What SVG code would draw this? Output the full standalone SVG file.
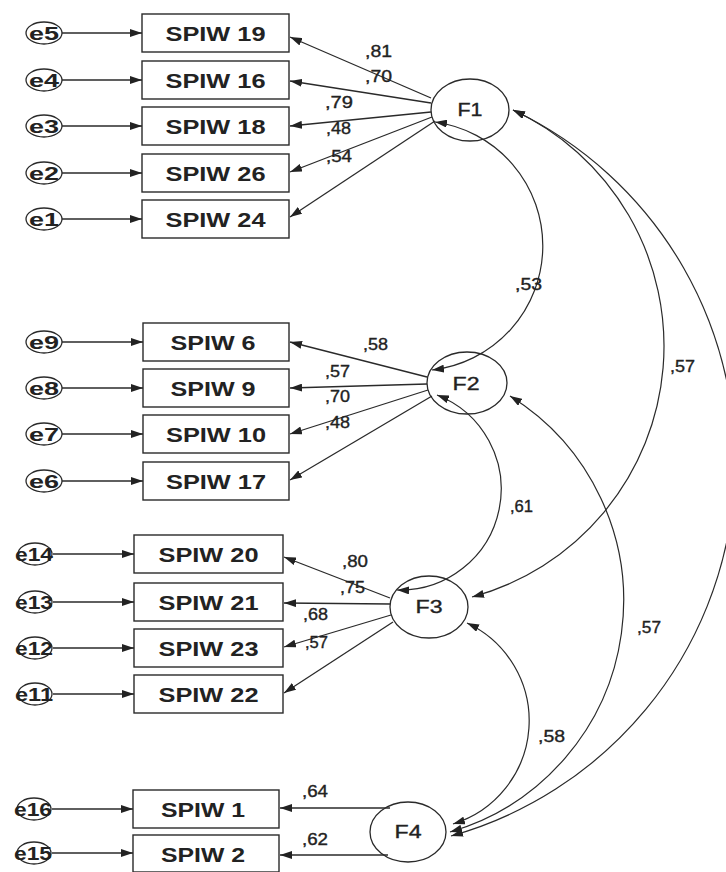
<svg xmlns="http://www.w3.org/2000/svg" width="726" height="872" viewBox="0 0 726 872">
<style>
  .bg{fill:#ffffff}
  .box{fill:#ffffff;stroke:#2a2a2a;stroke-width:1.4}
  .lat{fill:none;stroke:#2a2a2a;stroke-width:1.3}
  .err{fill:none;stroke:#2a2a2a;stroke-width:1.3}
  .bt{font-family:"Liberation Sans",Arial,sans-serif;font-weight:bold;font-size:21px;fill:#222;text-anchor:middle}
  .ft{font-family:"Liberation Sans",Arial,sans-serif;font-size:18px;fill:#222;stroke:#222;stroke-width:0.35;text-anchor:middle}
  .et{font-family:"Liberation Sans",Arial,sans-serif;font-weight:bold;font-size:18px;fill:#222;text-anchor:middle}
  .lb{font-family:"Liberation Sans",Arial,sans-serif;font-size:16px;fill:#222;stroke:#222;stroke-width:0.35}
  .ln{fill:none;stroke:#2a2a2a;stroke-width:1.3}
  .cv{fill:none;stroke:#2a2a2a;stroke-width:1.2}
</style>
<defs>
  <marker id="ah" viewBox="0 0 12 8" refX="12" refY="4" markerWidth="12" markerHeight="8" markerUnits="userSpaceOnUse" orient="auto-start-reverse">
    <path d="M0,0 L12,4 L0,8 z" fill="#222"/>
  </marker>
</defs>
<rect class="bg" x="0" y="0" width="726" height="872"/>

<g id="F1"><ellipse class="lat" cx="470" cy="110" rx="39" ry="31"/><text class="ft" x="470" y="116" textLength="25" lengthAdjust="spacingAndGlyphs">F1</text></g>
<g id="F2"><ellipse class="lat" cx="467" cy="383" rx="40" ry="31"/><text class="ft" x="466" y="390" textLength="27" lengthAdjust="spacingAndGlyphs">F2</text></g>
<g id="F3"><ellipse class="lat" cx="429" cy="607" rx="39" ry="31"/><text class="ft" x="429" y="613" textLength="27" lengthAdjust="spacingAndGlyphs">F3</text></g>
<g id="F4"><ellipse class="lat" cx="408" cy="832" rx="38" ry="30"/><text class="ft" x="408" y="838" textLength="27" lengthAdjust="spacingAndGlyphs">F4</text></g>

<g id="SPIW19"><rect class="box" x="142" y="14" width="147" height="38"/><text class="bt" x="215.5" y="40.5" textLength="100" lengthAdjust="spacingAndGlyphs">SPIW 19</text></g>
<g id="SPIW16"><rect class="box" x="142" y="61" width="147" height="38"/><text class="bt" x="215.5" y="87.5" textLength="100" lengthAdjust="spacingAndGlyphs">SPIW 16</text></g>
<g id="SPIW18"><rect class="box" x="142" y="107" width="147" height="38"/><text class="bt" x="215.5" y="133.5" textLength="100" lengthAdjust="spacingAndGlyphs">SPIW 18</text></g>
<g id="SPIW26"><rect class="box" x="142" y="154" width="147" height="38"/><text class="bt" x="215.5" y="180.5" textLength="100" lengthAdjust="spacingAndGlyphs">SPIW 26</text></g>
<g id="SPIW24"><rect class="box" x="142" y="200" width="147" height="38"/><text class="bt" x="215.5" y="226.5" textLength="100" lengthAdjust="spacingAndGlyphs">SPIW 24</text></g>

<g id="SPIW6"><rect class="box" x="143" y="323" width="146" height="38"/><text class="bt" x="213" y="349.5" textLength="85" lengthAdjust="spacingAndGlyphs">SPIW 6</text></g>
<g id="SPIW9"><rect class="box" x="143" y="369" width="146" height="38"/><text class="bt" x="213" y="395.5" textLength="85" lengthAdjust="spacingAndGlyphs">SPIW 9</text></g>
<g id="SPIW10"><rect class="box" x="143" y="415" width="146" height="38"/><text class="bt" x="216" y="441.5" textLength="100" lengthAdjust="spacingAndGlyphs">SPIW 10</text></g>
<g id="SPIW17"><rect class="box" x="143" y="462" width="146" height="38"/><text class="bt" x="216" y="488.5" textLength="100" lengthAdjust="spacingAndGlyphs">SPIW 17</text></g>

<g id="SPIW20"><rect class="box" x="134" y="535" width="149" height="38"/><text class="bt" x="208.5" y="561.5" textLength="100" lengthAdjust="spacingAndGlyphs">SPIW 20</text></g>
<g id="SPIW21"><rect class="box" x="134" y="583" width="149" height="38"/><text class="bt" x="208.5" y="609.5" textLength="100" lengthAdjust="spacingAndGlyphs">SPIW 21</text></g>
<g id="SPIW23"><rect class="box" x="134" y="629" width="149" height="38"/><text class="bt" x="208.5" y="655.5" textLength="100" lengthAdjust="spacingAndGlyphs">SPIW 23</text></g>
<g id="SPIW22"><rect class="box" x="134" y="675" width="149" height="38"/><text class="bt" x="208.5" y="701.5" textLength="100" lengthAdjust="spacingAndGlyphs">SPIW 22</text></g>

<g id="SPIW1"><rect class="box" x="133" y="790" width="146" height="38"/><text class="bt" x="203" y="816.5" textLength="84" lengthAdjust="spacingAndGlyphs">SPIW 1</text></g>
<g id="SPIW2"><rect class="box" x="133" y="835" width="146" height="37"/><text class="bt" x="203" y="861.5" textLength="84" lengthAdjust="spacingAndGlyphs">SPIW 2</text></g>

<g id="e5"><ellipse class="err" cx="44" cy="33" rx="18" ry="11"/><text class="et" x="44" y="39.5" textLength="30" lengthAdjust="spacingAndGlyphs">e5</text></g>
<g id="e4"><ellipse class="err" cx="44" cy="80" rx="18" ry="11"/><text class="et" x="44" y="86.5" textLength="30" lengthAdjust="spacingAndGlyphs">e4</text></g>
<g id="e3"><ellipse class="err" cx="44" cy="126" rx="18" ry="11"/><text class="et" x="44" y="132.5" textLength="30" lengthAdjust="spacingAndGlyphs">e3</text></g>
<g id="e2"><ellipse class="err" cx="44" cy="173" rx="18" ry="11"/><text class="et" x="44" y="179.5" textLength="30" lengthAdjust="spacingAndGlyphs">e2</text></g>
<g id="e1"><ellipse class="err" cx="44" cy="219" rx="18" ry="11"/><text class="et" x="44" y="225.5" textLength="30" lengthAdjust="spacingAndGlyphs">e1</text></g>
<g id="e9"><ellipse class="err" cx="44" cy="342" rx="18" ry="11"/><text class="et" x="44" y="348.5" textLength="30" lengthAdjust="spacingAndGlyphs">e9</text></g>
<g id="e8"><ellipse class="err" cx="44" cy="388" rx="18" ry="11"/><text class="et" x="44" y="394.5" textLength="30" lengthAdjust="spacingAndGlyphs">e8</text></g>
<g id="e7"><ellipse class="err" cx="44" cy="434" rx="18" ry="11"/><text class="et" x="44" y="440.5" textLength="30" lengthAdjust="spacingAndGlyphs">e7</text></g>
<g id="e6"><ellipse class="err" cx="44" cy="481" rx="18" ry="11"/><text class="et" x="44" y="487.5" textLength="30" lengthAdjust="spacingAndGlyphs">e6</text></g>
<g id="e14"><ellipse class="err" cx="35" cy="554" rx="17" ry="11"/><text class="et" x="34" y="560.5" textLength="38" lengthAdjust="spacingAndGlyphs">e14</text></g>
<g id="e13"><ellipse class="err" cx="35" cy="602" rx="17" ry="11"/><text class="et" x="34" y="608.5" textLength="38" lengthAdjust="spacingAndGlyphs">e13</text></g>
<g id="e12"><ellipse class="err" cx="35" cy="648" rx="17" ry="11"/><text class="et" x="34" y="654.5" textLength="38" lengthAdjust="spacingAndGlyphs">e12</text></g>
<g id="e11"><ellipse class="err" cx="35" cy="694" rx="17" ry="11"/><text class="et" x="34" y="700.5" textLength="38" lengthAdjust="spacingAndGlyphs">e11</text></g>
<g id="e16"><ellipse class="err" cx="34" cy="809" rx="17" ry="11"/><text class="et" x="33" y="815.5" textLength="38" lengthAdjust="spacingAndGlyphs">e16</text></g>
<g id="e15"><ellipse class="err" cx="34" cy="853" rx="17" ry="11"/><text class="et" x="33" y="859.5" textLength="38" lengthAdjust="spacingAndGlyphs">e15</text></g>

<g id="connectors">
  <g marker-end="url(#ah)">
    <line class="ln" x1="62" y1="33" x2="142" y2="33"/>
    <line class="ln" x1="62" y1="80" x2="142" y2="80"/>
    <line class="ln" x1="62" y1="126" x2="142" y2="126"/>
    <line class="ln" x1="62" y1="173" x2="142" y2="173"/>
    <line class="ln" x1="62" y1="219" x2="142" y2="219"/>
    <line class="ln" x1="62" y1="342" x2="143" y2="342"/>
    <line class="ln" x1="62" y1="388" x2="143" y2="388"/>
    <line class="ln" x1="62" y1="434" x2="143" y2="434"/>
    <line class="ln" x1="62" y1="481" x2="143" y2="481"/>
    <line class="ln" x1="53" y1="554" x2="134" y2="554"/>
    <line class="ln" x1="53" y1="602" x2="134" y2="602"/>
    <line class="ln" x1="53" y1="648" x2="134" y2="648"/>
    <line class="ln" x1="53" y1="694" x2="134" y2="694"/>
    <line class="ln" x1="52" y1="809" x2="133" y2="809"/>
    <line class="ln" x1="52" y1="853" x2="133" y2="853"/>
  </g>
  <g marker-end="url(#ah)">
    <line class="ln" x1="431" y1="98" x2="290" y2="37"/>
    <line class="ln" x1="431" y1="103" x2="290" y2="81"/>
    <line class="ln" x1="431" y1="112" x2="290" y2="126"/>
    <line class="ln" x1="432" y1="117" x2="290" y2="172"/>
    <line class="ln" x1="435" y1="121" x2="290" y2="217"/>
    <line class="ln" x1="427" y1="377" x2="290" y2="342"/>
    <line class="ln" x1="427" y1="384" x2="290" y2="388"/>
    <line class="ln" x1="428" y1="390" x2="290" y2="434"/>
    <line class="ln" x1="432" y1="396" x2="290" y2="480"/>
    <line class="ln" x1="390" y1="598" x2="284" y2="557"/>
    <line class="ln" x1="390" y1="604" x2="284" y2="603"/>
    <line class="ln" x1="391" y1="615" x2="284" y2="647"/>
    <line class="ln" x1="393" y1="622" x2="284" y2="693"/>
    <line class="ln" x1="390" y1="808" x2="280" y2="808"/>
    <line class="ln" x1="388" y1="855" x2="280" y2="855"/>
  </g>
  <g marker-start="url(#ah)" marker-end="url(#ah)">
    <path class="cv" d="M435,122 A125,125 0 0 1 432,370"/>
    <path class="cv" d="M437,395 A101,101 0 0 1 397,590"/>
    <path class="cv" d="M467,623 A108,108 0 0 1 453,824"/>
    <path class="cv" d="M513,110 A260,260 0 0 1 472,597"/>
    <path class="cv" d="M510,396 A241,241 0 0 1 450,832"/>
    <path class="cv" d="M513,110 A389,389 0 0 1 451,836"/>
  </g>
  <text class="lb" x="365" y="57" textLength="27" lengthAdjust="spacingAndGlyphs">,81</text>
  <text class="lb" x="365" y="82" textLength="27" lengthAdjust="spacingAndGlyphs">,70</text>
  <text class="lb" x="325" y="108" textLength="28" lengthAdjust="spacingAndGlyphs">,79</text>
  <text class="lb" x="326" y="134" textLength="25" lengthAdjust="spacingAndGlyphs">,48</text>
  <text class="lb" x="326" y="162" textLength="26" lengthAdjust="spacingAndGlyphs">,54</text>
  <text class="lb" x="515" y="290" textLength="27" lengthAdjust="spacingAndGlyphs">,53</text>
  <text class="lb" x="363" y="350" textLength="25" lengthAdjust="spacingAndGlyphs">,58</text>
  <text class="lb" x="325" y="377" textLength="25" lengthAdjust="spacingAndGlyphs">,57</text>
  <text class="lb" x="325" y="402" textLength="25" lengthAdjust="spacingAndGlyphs">,70</text>
  <text class="lb" x="325" y="428" textLength="25" lengthAdjust="spacingAndGlyphs">,48</text>
  <text class="lb" x="670" y="372" textLength="25" lengthAdjust="spacingAndGlyphs">,57</text>
  <text class="lb" x="510" y="512" textLength="23" lengthAdjust="spacingAndGlyphs">,61</text>
  <text class="lb" x="342" y="567" textLength="26" lengthAdjust="spacingAndGlyphs">,80</text>
  <text class="lb" x="340" y="593" textLength="25" lengthAdjust="spacingAndGlyphs">,75</text>
  <text class="lb" x="303" y="620" textLength="25" lengthAdjust="spacingAndGlyphs">,68</text>
  <text class="lb" x="305" y="648" textLength="23" lengthAdjust="spacingAndGlyphs">,57</text>
  <text class="lb" x="637" y="633" textLength="24" lengthAdjust="spacingAndGlyphs">,57</text>
  <text class="lb" x="538" y="742" textLength="27" lengthAdjust="spacingAndGlyphs">,58</text>
  <text class="lb" x="302" y="797" textLength="26" lengthAdjust="spacingAndGlyphs">,64</text>
  <text class="lb" x="302" y="845" textLength="26" lengthAdjust="spacingAndGlyphs">,62</text>
</g>
</svg>
